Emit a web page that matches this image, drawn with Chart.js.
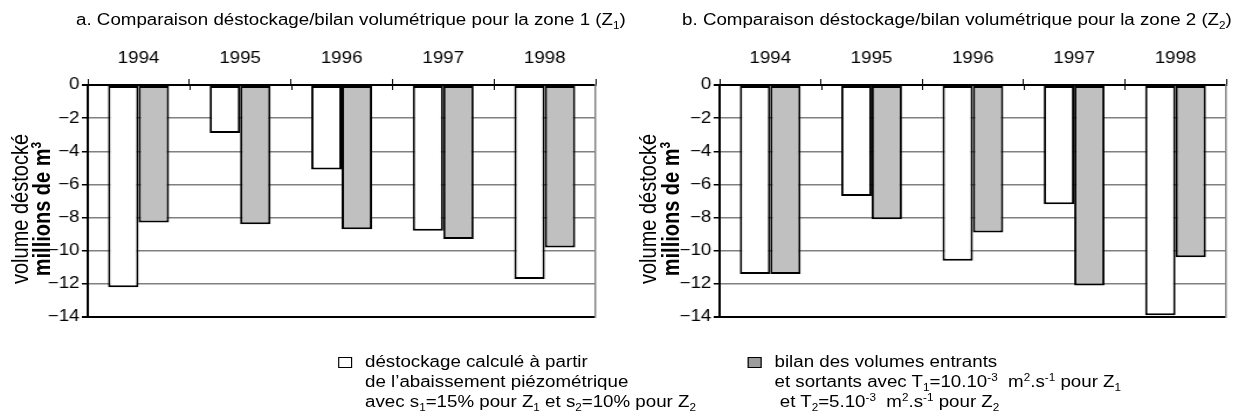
<!DOCTYPE html>
<html lang="fr">
<head>
<meta charset="utf-8">
<script src="https://cdn.jsdelivr.net/npm/chart.js@4.4.1/dist/chart.umd.min.js"></script>
<style>
  html, body { margin: 0; background: #fff; }
  body { width: 1248px; height: 418px; overflow: hidden; position: relative;
         font-family: "Liberation Sans", Arial, sans-serif; color: #000; }
  /* the reference is stretched sideways, so the whole figure is drawn narrow and widened */
  #stage { position: absolute; left: 0; top: 0; width: 1067px; height: 418px;
           transform: scaleX(1.17); transform-origin: 0 0; }
  .chartbox { position: absolute; top: 30px; width: 520px; height: 299px; }
  .title { position: absolute; top: 11px; font-size: 16px; line-height: 18px; white-space: nowrap; }
  .ytitle { position: absolute; top: 209px; font-size: 20px; line-height: 19px; white-space: nowrap;
            text-align: center; transform: translate(-50%, -50%) rotate(-90deg); }
  .legtext { position: absolute; top: 352px; font-size: 16px; line-height: 20px; white-space: nowrap; }
  .key { position: absolute; top: 357px; width: 10px; height: 9px; border: 1.5px solid #000; }
  sub, sup { font-size: 10px; line-height: 0; }
  .ytitle sup { font-size: 12px; }
</style>
</head>
<body>
<div id="stage">
  <div class="title" style="left:65px">a. Comparaison déstockage/bilan volumétrique pour la zone 1 (Z<sub>1</sub>)</div>
  <div class="title" style="left:583px">b. Comparaison déstockage/bilan volumétrique pour la zone 2 (Z<sub>2</sub>)</div>

  <div class="ytitle" style="left:27.4px">volume déstocké<br><b>millions de m<sup>3</sup></b></div>
  <div class="ytitle" style="left:564px">volume déstocké<br><b>millions de m<sup>3</sup></b></div>

  <div class="chartbox" style="left:0px"><canvas id="zone1"></canvas></div>
  <div class="chartbox" style="left:539.5px"><canvas id="zone2"></canvas></div>

  <div class="key" style="left:289px; background:#fff"></div>
  <div class="legtext" style="left:312px">déstockage calculé à partir<br>de l’abaissement piézométrique<br>avec s<sub>1</sub>=15% pour Z<sub>1</sub> et s<sub>2</sub>=10% pour Z<sub>2</sub></div>
  <div class="key" style="left:639px; background:#9c9c9c"></div>
  <div class="legtext" style="left:662px">bilan des volumes entrants<br>et sortants avec T<sub>1</sub>=10.10<sup>-3</sup>&nbsp; m<sup>2</sup>.s<sup>-1</sup> pour Z<sub>1</sub><br>&nbsp;et T<sub>2</sub>=5.10<sup>-3</sup>&nbsp; m<sup>2</sup>.s<sup>-1</sup> pour Z<sub>2</sub></div>
</div>

<script>
const years = ["1994", "1995", "1996", "1997", "1998"];

// millions de m3
const destockageZ1 = [-12.2, -2.9, -5.1, -8.8, -11.7];
const bilanZ1 = [-8.3, -8.4, -8.7, -9.3, -9.8];
const destockageZ2 = [-11.4, -6.7, -10.6, -7.2, -13.9];
const bilanZ2 = [-11.4, -8.1, -8.9, -12.1, -10.4];

const yMin = -14;
const yMax = 0;
const yStep = 2;

Chart.defaults.font.family = '"Liberation Sans", Arial, sans-serif';
Chart.defaults.font.size = 16;
Chart.defaults.color = "#000";

const isEdge = (v) => v === yMin || v === yMax;

// excel style "cross" ticks: the part of the category ticks below the zero line
const crossTicks = {
  id: "crossTicks",
  afterDatasetsDraw(chart) {
    const { ctx, chartArea } = chart;
    const x = chart.scales.x;
    ctx.save();
    ctx.strokeStyle = "#000";
    ctx.lineWidth = 1;
    for (let i = 1; i < years.length; i++) {
      const px = Math.round((x.getPixelForTick(i - 1) + x.getPixelForTick(i)) / 2) + 0.5;
      ctx.beginPath();
      ctx.moveTo(px, chartArea.top);
      ctx.lineTo(px, chartArea.top + 5);
      ctx.stroke();
    }
    ctx.restore();
  },
};

const makeChart = (id, dest, bilan, padRight) =>
  new Chart(document.getElementById(id), {
    type: "bar",
    data: {
      labels: years,
      datasets: [
        { label: "déstockage", data: dest, backgroundColor: "#fff",
          borderColor: "#000", borderWidth: 2, borderSkipped: false },
        { label: "bilan", data: bilan, backgroundColor: "#c0c0c0",
          borderColor: "#000", borderWidth: 2, borderSkipped: false },
      ],
    },
    options: {
      responsive: true,
      maintainAspectRatio: false,
      animation: false,
      layout: { padding: { left: 0, right: padRight, top: 0, bottom: 12 } },
      datasets: { bar: { categoryPercentage: 0.6, barPercentage: 1 } },
      plugins: { legend: { display: false }, tooltip: { enabled: false } },
      scales: {
        x: {
          position: "top",
          grid: { drawOnChartArea: false, color: "#000", lineWidth: 1, tickLength: 6 },
          border: { color: "#000", width: 2 },
          ticks: { padding: 11 },
          afterFit: (s) => { s.height = 55; },
        },
        y: {
          min: yMin,
          max: yMax,
          ticks: { stepSize: yStep, padding: 2,
                   callback: (v) => String(v).replace("-", "\u2212") },
          grid: {
            color: (c) => (isEdge(c.tick.value) ? "#000" : "#808080"),
            lineWidth: (c) => (isEdge(c.tick.value) ? 2 : 1.5),
            tickColor: "#000",
            tickLength: 5,
          },
          border: { color: "#000", width: 2 },
          afterFit: (s) => { s.width = 75; },
        },
        y2: {
          position: "right",
          min: yMin,
          max: yMax,
          ticks: { display: false },
          grid: { display: false },
          border: { color: "#808080", width: 1.5 },
          afterFit: (s) => { s.width = 0; },
        },
      },
    },
    plugins: [crossTicks],
  });

makeChart("zone1", destockageZ1, bilanZ1, 11);
makeChart("zone2", destockageZ2, bilanZ2, 12);
</script>
</body>
</html>
